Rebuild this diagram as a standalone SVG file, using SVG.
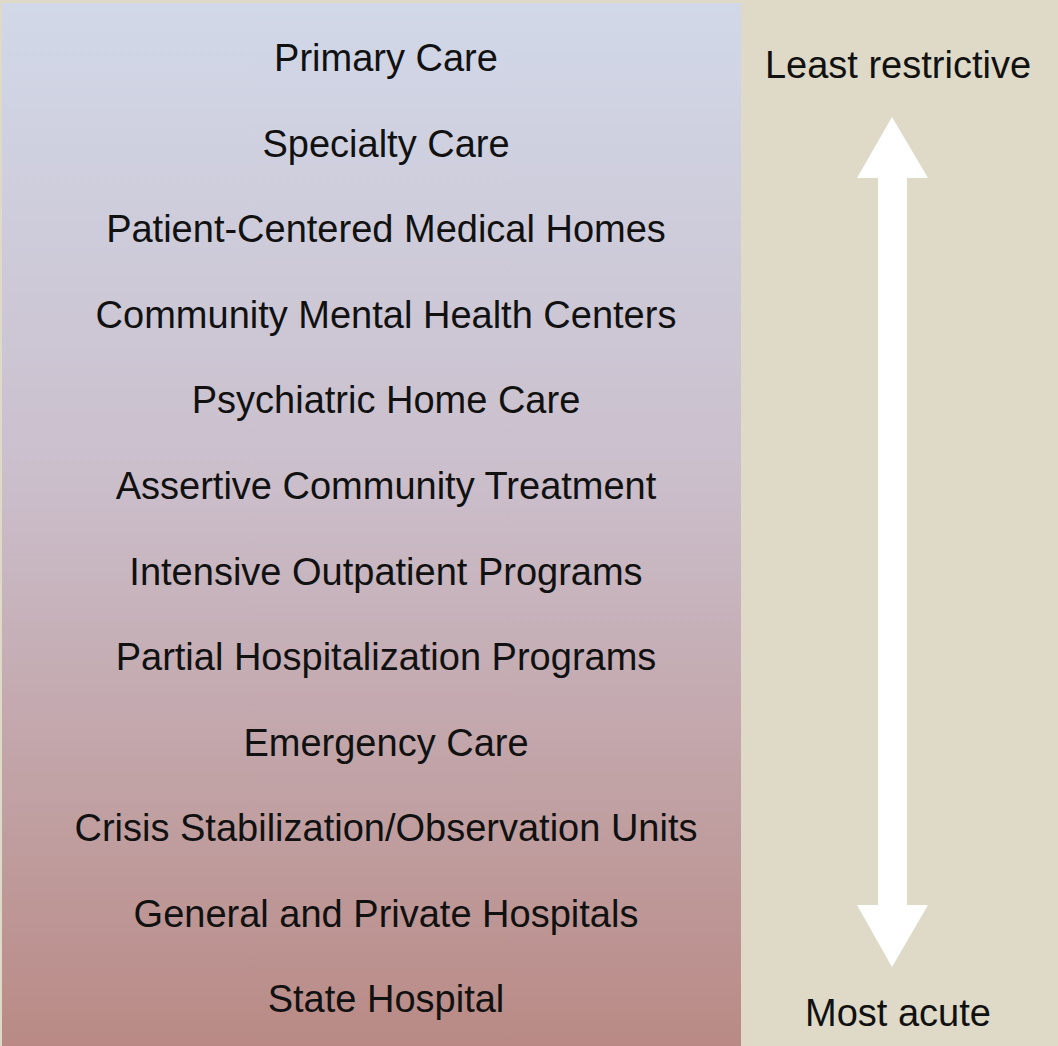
<svg xmlns="http://www.w3.org/2000/svg" width="1058" height="1046" viewBox="0 0 1058 1046">
<defs>
<linearGradient id="g" x1="0" y1="0" x2="0" y2="1">
<stop offset="0" stop-color="#d1d8e8"/>
<stop offset="0.45" stop-color="#cbbfcc"/>
<stop offset="1" stop-color="#b98a85"/>
</linearGradient>
</defs>
<style>
text{font-family:"Liberation Sans",Arial,sans-serif;font-size:38px;fill:#111;text-anchor:middle}
</style>
<rect width="1058" height="1046" fill="#dfdac8"/>
<rect x="2" y="3" width="739" height="1043" fill="url(#g)"/>
<g id="levels">
<text x="386" y="71">Primary Care</text>
<text x="386" y="157">Specialty Care</text>
<text x="386" y="242">Patient-Centered Medical Homes</text>
<text x="386" y="328">Community Mental Health Centers</text>
<text x="386" y="413">Psychiatric Home Care</text>
<text x="386" y="499">Assertive Community Treatment</text>
<text x="386" y="585">Intensive Outpatient Programs</text>
<text x="386" y="670">Partial Hospitalization Programs</text>
<text x="386" y="756">Emergency Care</text>
<text x="386" y="841">Crisis Stabilization/Observation Units</text>
<text x="386" y="927">General and Private Hospitals</text>
<text x="386" y="1012">State Hospital</text>
</g>
<g id="scale">
<text x="898" y="78">Least restrictive</text>
<polygon points="892,117 928,178 907,178 907,905 928,905 892,967 857,905 878,905 878,178 857,178" fill="#fff"/>
<text x="898" y="1026">Most acute</text>
</g>
</svg>
